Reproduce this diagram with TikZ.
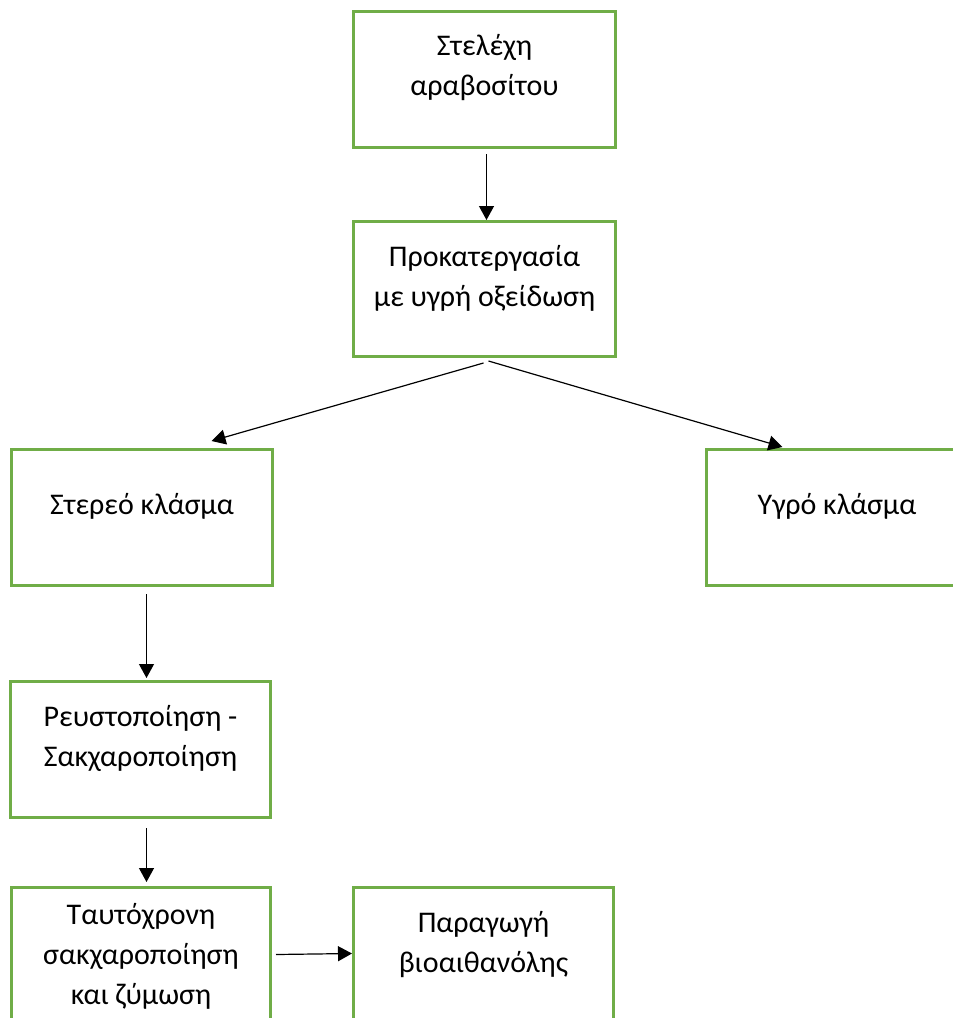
\documentclass[tikz,border=0pt]{standalone}
\usepackage{fontspec}
\setmainfont{Carlito}
\usetikzlibrary{calc,arrows.meta}
\definecolor{boxgreen}{RGB}{112,173,71}
\begin{document}
\begin{tikzpicture}[x=0.5pt,y=-0.5pt,
  box/.style={draw=boxgreen,line width=1.5pt,minimum height=68pt,inner sep=0pt,anchor=north west},
  txt/.style={align=center,font=\fontsize{15}{20}\selectfont,inner sep=0pt},
  arr/.style={-{Triangle[length=7pt,width=7.5pt]},line width=0.6pt}]
\useasboundingbox (0,0) rectangle (953,1018);
% boxes
\node[box,minimum width=131pt] (b1) at (352,10) {};
\node[box,minimum width=131pt,minimum height=67.5pt] (b2) at (352,220) {};
\node[box,minimum width=130.5pt] (b3) at (10,448) {};
\node[box,minimum width=130.5pt] (b4) at (705,448) {};
\node[box,minimum width=130pt] (b5) at (9,680) {};
\node[box,minimum width=129.5pt] (b6) at (10,886) {};
\node[box,minimum width=130pt] (b7) at (352,886) {};
% texts
\node[txt] (t1) at ([yshift=-29pt]b1.north) {Στελέχη\\αραβοσίτου};
\node[txt] (t2) at ([yshift=-29pt]b2.north) {Προκατεργασία\\με υγρή οξείδωση};
\node[txt] (t3) at ([yshift=-29pt]b3.north) {Στερεό κλάσμα};
\node[txt] (t4) at ([yshift=-29pt]b4.north) {Υγρό κλάσμα};
\node[txt] (t5) at ([yshift=-29pt]b5.north) {Ρευστοποίηση -\\Σακχαροποίηση};
\node[txt] (t6) at ([yshift=-35pt]b6.north) {Ταυτόχρονη\\σακχαροποίηση\\και ζύμωση};
\node[txt] (t7) at ([yshift=-29.5pt]b7.north) {Παραγωγή\\βιοαιθανόλης};
% connectors
\draw[arr] ([xshift=1pt,yshift=-2.5pt]b1.south) -- ([xshift=1pt]b2.north);
\draw[arr] ([xshift=-0.5pt,yshift=-2.5pt]b2.south) -- ([xshift=34.75pt,yshift=3.5pt]b3.north);
\draw[arr] ([xshift=2pt,yshift=-1.5pt]b2.south) -- ([xshift=-27.25pt,yshift=0.5pt]b4.north);
\draw[arr] ([xshift=2.25pt,yshift=-3.5pt]b3.south) -- ([xshift=3pt,yshift=1pt]b5.north);
\draw[arr] ([xshift=3pt,yshift=-4.5pt]b5.south) -- ([xshift=2.75pt,yshift=2pt]b6.north);
\draw[arr] ([xshift=2pt,yshift=0.5pt]b6.east) -- ([yshift=1pt]b7.west);
\end{tikzpicture}
\end{document}
